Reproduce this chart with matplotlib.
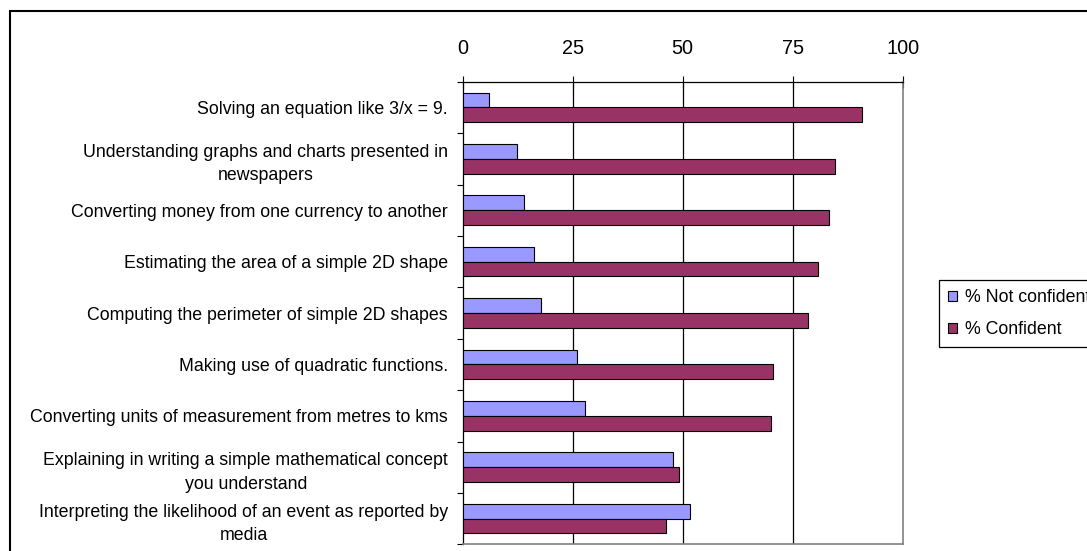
import matplotlib
matplotlib.use("Agg")
import matplotlib.pyplot as plt
import numpy as np
from matplotlib.patches import Rectangle

plt.rcParams['font.family'] = ['Liberation Sans', 'DejaVu Sans']

# Survey items, listed top to bottom
categories = [
    "Solving an equation like 3/x = 9.",
    "Understanding graphs and charts presented in\nnewspapers",
    "Converting money from one currency to another",
    "Estimating the area of a simple 2D shape",
    "Computing the perimeter of simple 2D shapes",
    "Making use of quadratic functions.",
    "Converting units of measurement from metres to kms",
    "Explaining in writing a simple mathematical concept\nyou understand",
    "Interpreting the likelihood of an event as reported by\nmedia",
]
not_confident = [6.0, 12.3, 13.9, 16.1, 17.7, 25.9, 27.9, 47.7, 51.6]
confident = [90.8, 84.5, 83.2, 80.7, 78.5, 70.6, 70.0, 49.1, 46.2]
series_labels = ["% Not confident", "% Confident"]
x_ticks = [0, 25, 50, 75, 100]

W, H = 1087, 551
fig = plt.figure(figsize=(W / 100, H / 100), dpi=100)

left, right, top, bottom = 462.7, 902.7, 81.7, 544.3
ax = fig.add_axes([left / W, 1 - bottom / H, (right - left) / W, (bottom - top) / H])

y = np.arange(len(categories))
h = 0.286
b1 = ax.barh(y - h / 2, not_confident, height=h, color='#9999FF',
             edgecolor='black', linewidth=0.8, label=series_labels[0], zorder=3)
b2 = ax.barh(y + h / 2, confident, height=h, color='#993366',
             edgecolor='black', linewidth=0.8, label=series_labels[1], zorder=3)

ax.set_xlim(0, 100)
ax.set_ylim(len(categories) - 0.5, -0.5)

# value axis along the top
ax.xaxis.tick_top()
ax.set_xticks(x_ticks)
ax.set_xticklabels([str(v) for v in x_ticks])
ax.tick_params(axis='x', direction='inout', length=9, width=0.8,
               labelsize=14.3, pad=12.5, colors='black')

# category axis: ticks on group boundaries, labels at group centres
ax.set_yticks(np.arange(len(categories) + 1) - 0.5)
ax.set_yticklabels([])
ax.set_yticks(y, minor=True)
ax.set_yticklabels(categories, minor=True, fontsize=12.8,
                   multialignment='center', linespacing=1.5)
ax.tick_params(axis='y', which='minor', length=0, pad=10.5)
ax.tick_params(axis='y', which='major', direction='out', length=4.5, width=0.8)

for v in x_ticks[1:-1]:
    ax.axvline(v, color='black', lw=0.9, zorder=1)

ax.spines['top'].set_color('black')
ax.spines['left'].set_color('black')
ax.spines['top'].set_linewidth(0.9)
ax.spines['left'].set_linewidth(0.9)
ax.spines['right'].set_color('#808080')
ax.spines['bottom'].set_color('#808080')
ax.spines['right'].set_linewidth(1.2)
ax.spines['bottom'].set_linewidth(1.2)

leg = fig.legend(handles=[b1, b2], labels=series_labels, loc='upper left',
                 bbox_to_anchor=(939 / W, 1 - 280 / H), borderaxespad=0,
                 fancybox=False, edgecolor='black', framealpha=1,
                 fontsize=12.8, handlelength=0.5, handleheight=0.5,
                 handletextpad=0.47, borderpad=0.5, labelspacing=0.85)
leg.get_frame().set_linewidth(0.9)

# chart area frame
frame = Rectangle((10 / W, -0.2), 1.5, 1.2 - 11 / H, transform=fig.transFigure,
                  fill=False, edgecolor='black', linewidth=1.5)
fig.add_artist(frame)

fig.savefig('out.png', dpi=100)
